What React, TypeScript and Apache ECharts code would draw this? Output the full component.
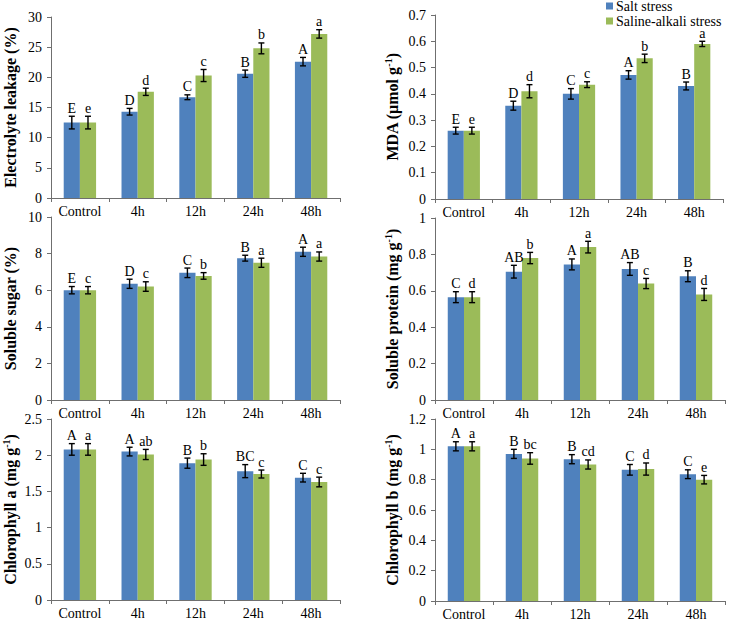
import React, { useEffect, useRef } from "react";
import * as echarts from "echarts";

const categories = ["Control", "4h", "12h", "24h", "48h"];
const seriesNames = ["Salt stress", "Saline-alkali stress"];

// Electrolyte leakage
const elSalt = [12.5, 14.3, 16.7, 20.6, 22.6];
const elSaltErr = [1.05, 0.55, 0.4, 0.6, 0.7];
const elSaline = [12.5, 17.6, 20.3, 24.8, 27.2];
const elSalineErr = [1.05, 0.6, 1.0, 0.9, 0.7];
const elSaltLetters = ["E", "D", "C", "B", "A"];
const elSalineLetters = ["e", "d", "c", "b", "a"];

// MDA
const mdaSalt = [0.26, 0.355, 0.4, 0.472, 0.43];
const mdaSaltErr = [0.013, 0.017, 0.02, 0.016, 0.015];
const mdaSaline = [0.26, 0.41, 0.435, 0.535, 0.59];
const mdaSalineErr = [0.013, 0.025, 0.011, 0.016, 0.01];
const mdaSaltLetters = ["E", "D", "C", "A", "B"];
const mdaSalineLetters = ["e", "d", "c", "b", "a"];

// Soluble sugar
const sugarSalt = [6.0, 6.35, 6.95, 7.75, 8.1];
const sugarSaltErr = [0.2, 0.25, 0.26, 0.16, 0.25];
const sugarSaline = [6.0, 6.2, 6.78, 7.5, 7.84];
const sugarSalineErr = [0.2, 0.26, 0.18, 0.25, 0.25];
const sugarSaltLetters = ["E", "D", "C", "B", "A"];
const sugarSalineLetters = ["c", "c", "b", "a", "a"];

// Soluble protein
const protSalt = [0.565, 0.705, 0.745, 0.72, 0.68];
const protSaltErr = [0.03, 0.035, 0.03, 0.035, 0.03];
const protSaline = [0.565, 0.78, 0.84, 0.64, 0.58];
const protSalineErr = [0.03, 0.031, 0.032, 0.028, 0.033];
const protSaltLetters = ["C", "AB", "A", "AB", "B"];
const protSalineLetters = ["d", "b", "a", "c", "d"];

// Chlorophyll a
const chlaSalt = [2.08, 2.05, 1.89, 1.78, 1.69];
const chlaSaltErr = [0.08, 0.06, 0.07, 0.09, 0.06];
const chlaSaline = [2.08, 2.01, 1.94, 1.74, 1.63];
const chlaSalineErr = [0.08, 0.07, 0.08, 0.055, 0.067];
const chlaSaltLetters = ["A", "A", "B", "BC", "C"];
const chlaSalineLetters = ["a", "ab", "b", "c", "c"];

// Chlorophyll b
const chlbSalt = [1.02, 0.97, 0.935, 0.865, 0.836];
const chlbSaltErr = [0.03, 0.03, 0.03, 0.035, 0.029];
const chlbSaline = [1.02, 0.94, 0.9, 0.87, 0.8];
const chlbSalineErr = [0.03, 0.038, 0.03, 0.04, 0.028];
const chlbSaltLetters = ["A", "B", "B", "C", "C"];
const chlbSalineLetters = ["a", "bc", "cd", "d", "e"];

const FONT = "Liberation Serif";
const BLUE = "#4F81BD";
const GREEN = "#9BBB59";
const AXIS = "#6f6f6f";
const BAR_FRAC = 0.28;

type Panel = {
  name: string;
  max: number;
  interval: number;
  grid: { left: number; top: number; width: number; height: number };
  nameGap: number;
  values: number[][];
  errs: number[][];
  letters: string[][];
};

const panels: Panel[] = [
  {
    name: "{b|Electrolyte leakage (%)}",
    max: 30, interval: 5,
    grid: { left: 51, top: 17, width: 289, height: 181 },
    nameGap: 32,
    values: [elSalt, elSaline], errs: [elSaltErr, elSalineErr], letters: [elSaltLetters, elSalineLetters],
  },
  {
    name: "{b|MDA (μmol g}{s|-1}{b|)}",
    max: 0.7, interval: 0.1,
    grid: { left: 435, top: 15, width: 288, height: 184 },
    nameGap: 34,
    values: [mdaSalt, mdaSaline], errs: [mdaSaltErr, mdaSalineErr], letters: [mdaSaltLetters, mdaSalineLetters],
  },
  {
    name: "{b|Soluble sugar (%)}",
    max: 10, interval: 2,
    grid: { left: 51, top: 217, width: 289, height: 183 },
    nameGap: 32,
    values: [sugarSalt, sugarSaline], errs: [sugarSaltErr, sugarSalineErr], letters: [sugarSaltLetters, sugarSalineLetters],
  },
  {
    name: "{b|Soluble protein (mg g}{s|-1}{b|)}",
    max: 1, interval: 0.2,
    grid: { left: 435, top: 218, width: 290, height: 182 },
    nameGap: 34,
    values: [protSalt, protSaline], errs: [protSaltErr, protSalineErr], letters: [protSaltLetters, protSalineLetters],
  },
  {
    name: "{b|Chlorophyll a (mg g}{s|-1}{b|)}",
    max: 2.5, interval: 0.5,
    grid: { left: 51, top: 419, width: 289, height: 181 },
    nameGap: 32,
    values: [chlaSalt, chlaSaline], errs: [chlaSaltErr, chlaSalineErr], letters: [chlaSaltLetters, chlaSalineLetters],
  },
  {
    name: "{b|Chlorophyll b (mg g}{s|-1}{b|)}",
    max: 1.2, interval: 0.2,
    grid: { left: 435, top: 419, width: 290, height: 182 },
    nameGap: 34,
    values: [chlbSalt, chlbSaline], errs: [chlbSaltErr, chlbSalineErr], letters: [chlbSaltLetters, chlbSalineLetters],
  },
];

function buildOption() {
  const grid: any[] = [];
  const xAxis: any[] = [];
  const yAxis: any[] = [];
  const series: any[] = [];
  panels.forEach((p, i) => {
    grid.push({ ...p.grid });
    xAxis.push({
      type: "category",
      gridIndex: i,
      data: categories,
      axisLine: { lineStyle: { color: AXIS, width: 1 } },
      axisTick: { show: true, alignWithLabel: false, length: 4, lineStyle: { color: AXIS } },
      axisLabel: { color: "#000", fontFamily: FONT, fontSize: 14, margin: 6, interval: 0 },
    });
    yAxis.push({
      type: "value",
      gridIndex: i,
      min: 0,
      max: p.max,
      interval: p.interval,
      splitLine: { show: false },
      axisLine: { show: true, lineStyle: { color: AXIS, width: 1 } },
      axisTick: { show: true, length: 4, lineStyle: { color: AXIS } },
      axisLabel: { color: "#000", fontFamily: FONT, fontSize: 14, margin: 9 },
      name: p.name,
      nameLocation: "middle",
      nameGap: p.nameGap,
      nameRotate: 90,
      nameTextStyle: {
        fontFamily: FONT,
        rich: {
          b: { fontFamily: FONT, fontSize: 16, fontWeight: "bold", color: "#000", lineHeight: 18 },
          s: { fontFamily: FONT, fontSize: 10, fontWeight: "bold", color: "#000", verticalAlign: "top", lineHeight: 10 },
        },
      },
    });
    [0, 1].forEach((k) => {
      series.push({
        type: "bar",
        name: seriesNames[k],
        xAxisIndex: i,
        yAxisIndex: i,
        data: p.values[k],
        barWidth: BAR_FRAC * 100 + "%",
        barGap: "0%",
        itemStyle: { color: k === 0 ? BLUE : GREEN },
        z: 2,
      });
    });
    [0, 1].forEach((k) => {
      const vals = p.values[k];
      const errs = p.errs[k];
      const lets = p.letters[k];
      series.push({
        type: "custom",
        name: "err" + i + "_" + k,
        xAxisIndex: i,
        yAxisIndex: i,
        z: 5,
        encode: { x: 0, y: 1 },
        data: vals.map((v, j) => [j, v, errs[j]]),
        renderItem: (params: any, api: any) => {
          const ci = api.value(0);
          const v = api.value(1);
          const e = api.value(2);
          const band = api.size([1, 0])[0];
          const bw = band * BAR_FRAC;
          const cx = api.coord([ci, 0])[0] + (k === 0 ? -bw / 2 : bw / 2);
          const yTop = api.coord([ci, v + e])[1];
          const yBot = api.coord([ci, v - e])[1];
          const ls = { stroke: "#000", lineWidth: 1.4 };
          return {
            type: "group",
            children: [
              { type: "line", shape: { x1: cx, y1: yTop, x2: cx, y2: yBot }, style: ls },
              { type: "line", shape: { x1: cx - 3, y1: yTop, x2: cx + 3, y2: yTop }, style: ls },
              { type: "line", shape: { x1: cx - 3, y1: yBot, x2: cx + 3, y2: yBot }, style: ls },
              {
                type: "text",
                x: cx,
                y: yTop - 1,
                style: {
                  text: lets[params.dataIndex],
                  textAlign: "center",
                  textVerticalAlign: "bottom",
                  fontFamily: FONT,
                  fontSize: 14,
                  fill: "#000",
                },
              },
            ],
          };
        },
      });
    });
  });

  return {
    animation: false,
    backgroundColor: "#fff",
    textStyle: { fontFamily: FONT },
    grid,
    xAxis,
    yAxis,
    legend: {
      data: seriesNames,
      orient: "vertical",
      left: 606,
      top: -1,
      itemWidth: 7,
      itemHeight: 7,
      itemGap: 1,
      icon: "rect",
      textStyle: { fontFamily: FONT, fontSize: 14, color: "#000", padding: [0, 0, 0, -2] },
      padding: 0,
    },
    series,
  };
}

export default function App() {
  const ref = useRef<HTMLDivElement>(null);
  useEffect(() => {
    if (!ref.current) return;
    const chart = echarts.init(ref.current, null, { renderer: "svg" });
    chart.setOption(buildOption() as any);
    return () => chart.dispose();
  }, []);
  return (
    <div
      ref={ref}
      style={{ position: "fixed", left: 0, top: 0, width: 729, height: 623, background: "#fff" }}
    />
  );
}
